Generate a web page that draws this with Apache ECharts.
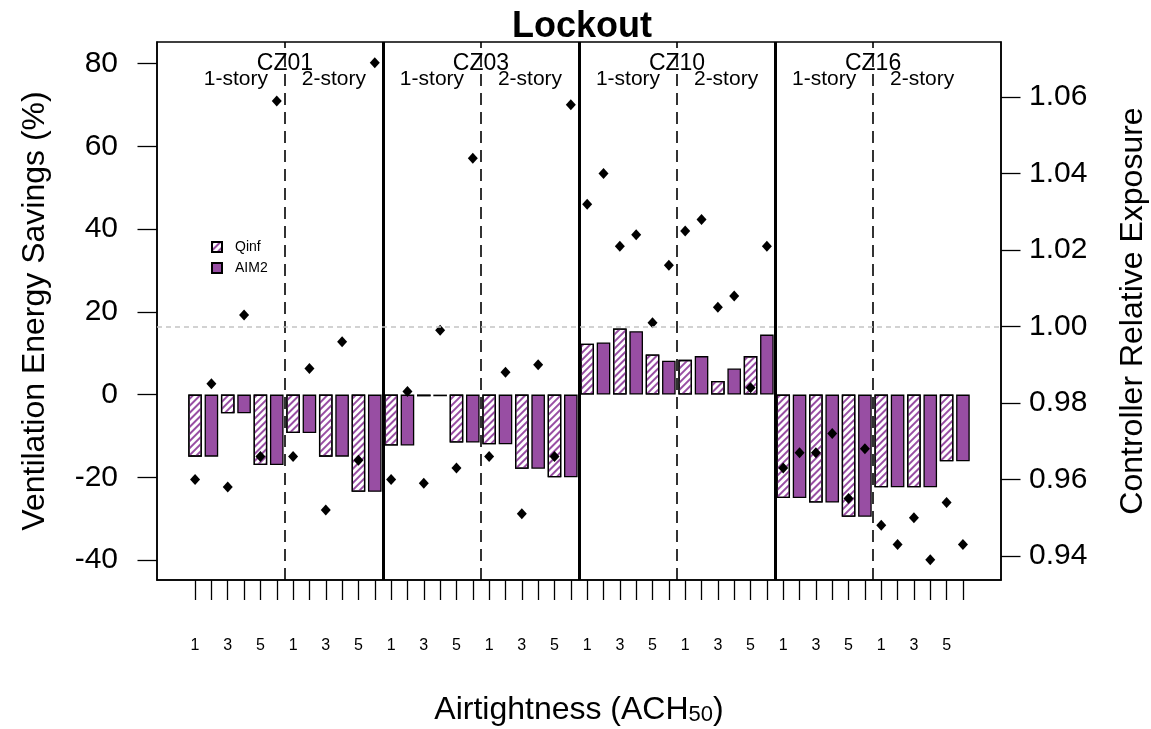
<!DOCTYPE html>
<html><head><meta charset="utf-8">
<script src="https://cdn.jsdelivr.net/npm/echarts@6/dist/echarts.min.js"></script>
<style>html,body{margin:0;padding:0;background:#fff}#c{width:1151px;height:729px}</style>
</head><body><div id="c"></div>
<script>
// ---------- data ----------
const zones = ['CZ01', 'CZ03', 'CZ10', 'CZ16'];
const stories = ['1-story', '2-story'];
const achLevels = ['1', '3', '5'];
// ventilation energy savings (%), order: zone -> story -> ACH50
const qinfSavings = [
  -15.0, -4.5, -17.0,   -9.3, -15.0, -23.5,
  -12.3, -0.4, -11.6,  -12.0, -17.9, -20.0,
   12.3, 16.0,   9.7,    8.4,   3.3,   9.3,
  -25.0, -26.1, -29.5, -22.4, -22.4, -16.1
];
const aim2Savings = [
  -15.0, -4.5, -17.0,   -9.3, -15.0, -23.5,
  -12.3, -0.4, -11.6,  -12.0, -17.9, -20.0,
   12.6, 15.3,   8.2,    9.3,   6.3,  14.5,
  -25.0, -26.1, -29.5, -22.4, -22.4, -16.1
];
// controller relative exposure
const qinfExposure = [
  0.960, 0.958, 0.966,  0.966, 0.952, 0.965,
  0.960, 0.959, 0.963,  0.966, 0.951, 0.966,
  1.032, 1.021, 1.001,  1.025, 1.005, 0.984,
  0.963, 0.967, 0.955,  0.948, 0.950, 0.954
];
const aim2Exposure = [
  0.985, 1.003, 1.059,  0.989, 0.996, 1.069,
  0.983, 0.999, 1.044,  0.988, 0.990, 1.058,
  1.040, 1.024, 1.016,  1.028, 1.008, 1.021,
  0.967, 0.972, 0.968,  0.943, 0.939, 0.943
];
const leftTicks = [-40, -20, 0, 20, 40, 60, 80];
const rightTicks = [0.94, 0.96, 0.98, 1.00, 1.02, 1.04, 1.06];
const referenceExposure = 1.0;

// ---------- build ----------
const FONT = '"Liberation Sans", Arial, Helvetica, sans-serif';
const PURPLE = '#984EA3';
const barsPerStory = achLevels.length * 2;
const barsPerZone = barsPerStory * stories.length;
const nBars = qinfSavings.length * 2;

const qinfData = qinfSavings.map((v, k) => [2 * k + 1, v]);
const aim2Data = aim2Savings.map((v, k) => [2 * k + 2, v]);
const expoData = [];
qinfExposure.forEach((v, k) => { expoData.push([2 * k + 1, v]); expoData.push([2 * k + 2, aim2Exposure[k]]); });

const tickPositions = Array.from({length: nBars}, (_, i) => i + 1);
const labelPositions = tickPositions.filter(p => p % 2 === 1);

const zoneLines = zones.slice(1).map((z, i) => ({xAxis: (i + 1) * barsPerZone + 0.5}));
const storyLines = zones.map((z, i) => ({xAxis: i * barsPerZone + barsPerStory + 0.5}));

const annot = [];
zones.forEach((z, i) => {
  annot.push({value: [i * barsPerZone + barsPerStory + 0.5, 80.0], name: z, label: {fontSize: 23}});
  stories.forEach((s, j) => {
    annot.push({value: [i * barsPerZone + j * barsPerStory + barsPerStory / 2 + 0.5, 76.1], name: s, label: {fontSize: 21}});
  });
});

const chart = echarts.init(document.getElementById('c'), null, {renderer: 'canvas'});
chart.setOption({
  animation: false,
  backgroundColor: '#fff',
  textStyle: {fontFamily: FONT, color: '#000'},
  title: {
    text: 'Lockout', left: 577, top: 4, textAlign: 'center',
    textStyle: {fontFamily: FONT, fontSize: 36, fontWeight: 'bold', color: '#000'}
  },
  legend: {
    data: ['Qinf', 'AIM2'], orient: 'vertical', left: 206, top: 235,
    itemWidth: 10, itemHeight: 10, itemGap: 7, icon: 'rect',
    textStyle: {fontFamily: FONT, fontSize: 14, color: '#000', padding: [0, 0, 0, 8]}
  },
  grid: {left: 157, right: 150, top: 42, bottom: 149, show: true, borderColor: '#000', borderWidth: 1.5,
    containLabel: false, outerBoundsMode: 'none'},
  xAxis: {
    type: 'value', min: -1.33, max: 50.33,
    name: '{a|Airtightness (ACH}{s|50}{a|)}', nameLocation: 'middle', nameGap: 110,
    nameTextStyle: {
      rich: {
        a: {fontFamily: FONT, fontSize: 32, color: '#000', lineHeight: 36, verticalAlign: 'bottom'},
        s: {fontFamily: FONT, fontSize: 22, color: '#000', lineHeight: 14, verticalAlign: 'bottom'}
      }
    },
    axisLine: {show: true, onZero: false, lineStyle: {color: '#000', width: 1.5}},
    axisTick: {show: true, length: 20, customValues: tickPositions, lineStyle: {color: '#000', width: 1.3}},
    axisLabel: {
      customValues: labelPositions, margin: 58, fontSize: 16, color: '#000', fontFamily: FONT,
      formatter: v => achLevels[((v - 1) / 2) % achLevels.length]
    },
    splitLine: {show: false}
  },
  yAxis: [{
    type: 'value', min: -44.8, max: 85.2, position: 'left',
    name: 'Ventilation Energy Savings (%)', nameLocation: 'middle', nameGap: 106,
    nameTextStyle: {fontFamily: FONT, fontSize: 32, color: '#000'},
    axisLine: {show: true, onZero: false, lineStyle: {color: '#000', width: 1.5}},
    axisTick: {show: true, length: 19.5, customValues: leftTicks, lineStyle: {color: '#000', width: 1.3}},
    axisLabel: {customValues: leftTicks, margin: 39, fontSize: 30, color: '#000', fontFamily: FONT},
    splitLine: {show: false}
  }, {
    type: 'value', min: 0.9337, max: 1.0744, position: 'right',
    name: 'Controller Relative Exposure', nameLocation: 'middle', nameGap: 116, nameRotate: 90,
    nameTextStyle: {fontFamily: FONT, fontSize: 32, color: '#000'},
    axisLine: {show: true, onZero: false, lineStyle: {color: '#000', width: 1.5}},
    axisTick: {show: true, length: 19.5, customValues: rightTicks, lineStyle: {color: '#000', width: 1.3}},
    axisLabel: {customValues: rightTicks, margin: 28, fontSize: 30, color: '#000', fontFamily: FONT,
      formatter: v => v.toFixed(2)},
    splitLine: {show: false}
  }],
  series: [{
    name: 'Qinf', type: 'bar', data: qinfData, barWidth: 13.6, barGap: '-100%',
    itemStyle: {
      color: '#ffffff', borderColor: '#000', borderWidth: 1.3,
      decal: {symbol: 'rect', symbolSize: 1, dashArrayX: [1, 0], dashArrayY: [1.6, 2.6], rotation: -Math.PI / 4, color: PURPLE}
    },
    markLine: {
      silent: true, symbol: 'none', label: {show: false},
      lineStyle: {color: '#000', width: 1.6, type: [12, 7]},
      data: storyLines
    },
    z: 2
  }, {
    name: 'AIM2', type: 'bar', data: aim2Data, barWidth: 13.6, barGap: '-100%',
    itemStyle: {color: PURPLE, borderColor: '#000', borderWidth: 1.3},
    markLine: {
      silent: true, symbol: 'none', label: {show: false},
      lineStyle: {color: '#000', width: 3, type: 'solid'},
      data: zoneLines
    },
    z: 2
  }, {
    name: 'Exposure', type: 'scatter', yAxisIndex: 1, data: expoData,
    symbol: 'diamond', symbolSize: [10, 11], itemStyle: {color: '#000', opacity: 1},
    markLine: {
      silent: true, symbol: 'none', label: {show: false},
      lineStyle: {color: '#c4c4c4', width: 1.5, type: [5, 4], opacity: 1},
      data: [{yAxis: referenceExposure}]
    },
    z: 4
  }, {
    name: 'annot', type: 'scatter', data: annot, symbolSize: 0, silent: true,
    itemStyle: {opacity: 1},
    label: {show: true, position: 'inside', formatter: p => p.name, color: '#000', fontFamily: FONT, opacity: 1},
    z: 5
  }]
});
</script></body></html>
